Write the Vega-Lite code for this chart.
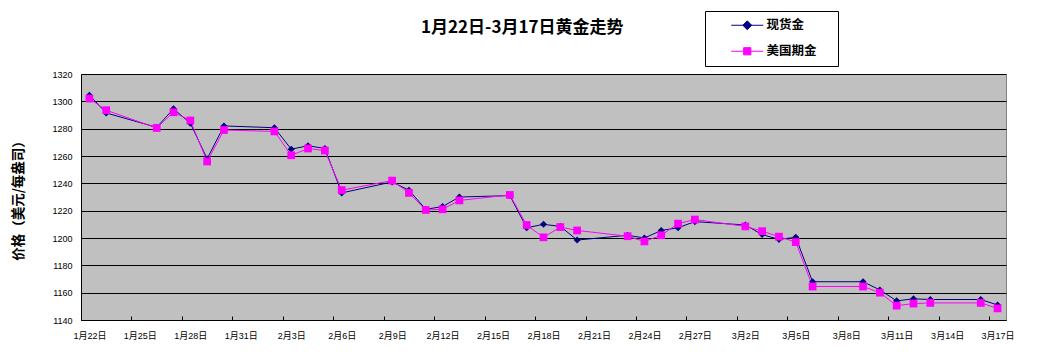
{
  "$schema": "https://vega.github.io/schema/vega-lite/v6.json",
  "width": 925,
  "height": 246,
  "autosize": {"type": "none"},
  "padding": {"left": 81, "top": 74, "right": 43, "bottom": 42},
  "background": "white",
  "title": {
    "text": "1月22日-3月17日黄金走势",
    "anchor": "start",
    "frame": "group",
    "dx": 340,
    "offset": -26,
    "font": "Noto Sans CJK SC",
    "fontSize": 17,
    "fontWeight": "bold",
    "color": "black"
  },
  "config": {
    "view": {"stroke": "#808080", "fill": "#C0C0C0", "strokeWidth": 1},
    "axis": {
      "domainColor": "black",
      "labelColor": "black",
      "labelFont": "Liberation Sans, Noto Sans CJK SC",
      "labelFontSize": 9
    }
  },
  "data": {
    "values": [
      {"date": "2015-01-22", "series": "现货金", "price": 1304.5},
      {"date": "2015-01-23", "series": "现货金", "price": 1291.5},
      {"date": "2015-01-26", "series": "现货金", "price": 1281},
      {"date": "2015-01-27", "series": "现货金", "price": 1294.5},
      {"date": "2015-01-28", "series": "现货金", "price": 1284},
      {"date": "2015-01-29", "series": "现货金", "price": 1258},
      {"date": "2015-01-30", "series": "现货金", "price": 1282},
      {"date": "2015-02-02", "series": "现货金", "price": 1280.7},
      {"date": "2015-02-03", "series": "现货金", "price": 1265},
      {"date": "2015-02-04", "series": "现货金", "price": 1267.5},
      {"date": "2015-02-05", "series": "现货金", "price": 1265.5},
      {"date": "2015-02-06", "series": "现货金", "price": 1233},
      {"date": "2015-02-09", "series": "现货金", "price": 1241},
      {"date": "2015-02-10", "series": "现货金", "price": 1235},
      {"date": "2015-02-11", "series": "现货金", "price": 1221},
      {"date": "2015-02-12", "series": "现货金", "price": 1223},
      {"date": "2015-02-13", "series": "现货金", "price": 1230},
      {"date": "2015-02-16", "series": "现货金", "price": 1231},
      {"date": "2015-02-17", "series": "现货金", "price": 1207.5},
      {"date": "2015-02-18", "series": "现货金", "price": 1210},
      {"date": "2015-02-19", "series": "现货金", "price": 1208.5},
      {"date": "2015-02-20", "series": "现货金", "price": 1198.5},
      {"date": "2015-02-23", "series": "现货金", "price": 1202},
      {"date": "2015-02-24", "series": "现货金", "price": 1200},
      {"date": "2015-02-25", "series": "现货金", "price": 1205.5},
      {"date": "2015-02-26", "series": "现货金", "price": 1207.5},
      {"date": "2015-02-27", "series": "现货金", "price": 1212},
      {"date": "2015-03-02", "series": "现货金", "price": 1209.5},
      {"date": "2015-03-03", "series": "现货金", "price": 1202.5},
      {"date": "2015-03-04", "series": "现货金", "price": 1199},
      {"date": "2015-03-05", "series": "现货金", "price": 1200.5},
      {"date": "2015-03-06", "series": "现货金", "price": 1168},
      {"date": "2015-03-09", "series": "现货金", "price": 1168},
      {"date": "2015-03-10", "series": "现货金", "price": 1162},
      {"date": "2015-03-11", "series": "现货金", "price": 1154},
      {"date": "2015-03-12", "series": "现货金", "price": 1155.5},
      {"date": "2015-03-13", "series": "现货金", "price": 1155},
      {"date": "2015-03-16", "series": "现货金", "price": 1155},
      {"date": "2015-03-17", "series": "现货金", "price": 1151},
      {"date": "2015-01-22", "series": "美国期金", "price": 1302},
      {"date": "2015-01-23", "series": "美国期金", "price": 1293.5},
      {"date": "2015-01-26", "series": "美国期金", "price": 1280.5},
      {"date": "2015-01-27", "series": "美国期金", "price": 1292},
      {"date": "2015-01-28", "series": "美国期金", "price": 1286},
      {"date": "2015-01-29", "series": "美国期金", "price": 1256},
      {"date": "2015-01-30", "series": "美国期金", "price": 1279},
      {"date": "2015-02-02", "series": "美国期金", "price": 1278},
      {"date": "2015-02-03", "series": "美国期金", "price": 1260.5},
      {"date": "2015-02-04", "series": "美国期金", "price": 1265.5},
      {"date": "2015-02-05", "series": "美国期金", "price": 1264},
      {"date": "2015-02-06", "series": "美国期金", "price": 1235},
      {"date": "2015-02-09", "series": "美国期金", "price": 1242},
      {"date": "2015-02-10", "series": "美国期金", "price": 1233},
      {"date": "2015-02-11", "series": "美国期金", "price": 1220.5},
      {"date": "2015-02-12", "series": "美国期金", "price": 1221},
      {"date": "2015-02-13", "series": "美国期金", "price": 1227.5},
      {"date": "2015-02-16", "series": "美国期金", "price": 1231.5},
      {"date": "2015-02-17", "series": "美国期金", "price": 1209.5},
      {"date": "2015-02-18", "series": "美国期金", "price": 1200.5},
      {"date": "2015-02-19", "series": "美国期金", "price": 1208},
      {"date": "2015-02-20", "series": "美国期金", "price": 1205.5},
      {"date": "2015-02-23", "series": "美国期金", "price": 1201.3},
      {"date": "2015-02-24", "series": "美国期金", "price": 1197.5},
      {"date": "2015-02-25", "series": "美国期金", "price": 1202},
      {"date": "2015-02-26", "series": "美国期金", "price": 1210.5},
      {"date": "2015-02-27", "series": "美国期金", "price": 1213.5},
      {"date": "2015-03-02", "series": "美国期金", "price": 1208.5},
      {"date": "2015-03-03", "series": "美国期金", "price": 1205},
      {"date": "2015-03-04", "series": "美国期金", "price": 1201},
      {"date": "2015-03-05", "series": "美国期金", "price": 1197},
      {"date": "2015-03-06", "series": "美国期金", "price": 1164.5},
      {"date": "2015-03-09", "series": "美国期金", "price": 1164.5},
      {"date": "2015-03-10", "series": "美国期金", "price": 1160},
      {"date": "2015-03-11", "series": "美国期金", "price": 1150.5},
      {"date": "2015-03-12", "series": "美国期金", "price": 1152},
      {"date": "2015-03-13", "series": "美国期金", "price": 1152.5},
      {"date": "2015-03-16", "series": "美国期金", "price": 1152.5},
      {"date": "2015-03-17", "series": "美国期金", "price": 1148.5}
    ]
  },
  "encoding": {
    "x": {
      "field": "date",
      "type": "temporal",
      "scale": {
        "type": "utc",
        "domain": [
          {"year": 2015, "month": 1, "date": 21, "hours": 12, "utc": true},
          {"year": 2015, "month": 3, "date": 17, "hours": 12, "utc": true}
        ]
      },
      "axis": {
        "title": null,
        "grid": false,
        "format": "%-m月%-d日",
        "values": [
          {"year": 2015, "month": 1, "date": 22, "utc": true},
          {"year": 2015, "month": 1, "date": 25, "utc": true},
          {"year": 2015, "month": 1, "date": 28, "utc": true},
          {"year": 2015, "month": 1, "date": 31, "utc": true},
          {"year": 2015, "month": 2, "date": 3, "utc": true},
          {"year": 2015, "month": 2, "date": 6, "utc": true},
          {"year": 2015, "month": 2, "date": 9, "utc": true},
          {"year": 2015, "month": 2, "date": 12, "utc": true},
          {"year": 2015, "month": 2, "date": 15, "utc": true},
          {"year": 2015, "month": 2, "date": 18, "utc": true},
          {"year": 2015, "month": 2, "date": 21, "utc": true},
          {"year": 2015, "month": 2, "date": 24, "utc": true},
          {"year": 2015, "month": 2, "date": 27, "utc": true},
          {"year": 2015, "month": 3, "date": 2, "utc": true},
          {"year": 2015, "month": 3, "date": 5, "utc": true},
          {"year": 2015, "month": 3, "date": 8, "utc": true},
          {"year": 2015, "month": 3, "date": 11, "utc": true},
          {"year": 2015, "month": 3, "date": 14, "utc": true},
          {"year": 2015, "month": 3, "date": 17, "utc": true}
        ],
        "tickColor": "black",
        "tickSize": -4,
        "tickOffset": -8.4,
        "labelOffset": 8.4,
        "labelPadding": 15,
        "labelOverlap": false,
        "labelFlush": false
      }
    },
    "y": {
      "field": "price",
      "type": "quantitative",
      "scale": {"domain": [1140, 1320], "nice": false, "zero": false},
      "axis": {
        "title": "价格（美元/每盎司）",
        "titleFont": "Noto Sans CJK SC",
        "titleFontSize": 13.5,
        "titleFontWeight": "bold",
        "titleColor": "black",
        "titlePadding": 26,
        "format": "d",
        "values": [1140, 1160, 1180, 1200, 1220, 1240, 1260, 1280, 1300, 1320],
        "ticks": false,
        "labelPadding": 9,
        "grid": true,
        "gridColor": "black",
        "gridWidth": 1,
        "gridOpacity": 1
      }
    },
    "color": {
      "field": "series",
      "type": "nominal",
      "scale": {"domain": ["现货金", "美国期金"], "range": ["#000080", "#FF00FF"]},
      "legend": {
        "orient": "none",
        "legendX": 624,
        "legendY": -63,
        "title": null,
        "strokeColor": "black",
        "fillColor": "white",
        "padding": 8,
        "symbolOffset": 28,
        "symbolSize": 64,
        "symbolType": "circle",
        "labelOffset": 13,
        "rowPadding": 13,
        "labelFont": "Noto Sans CJK SC",
        "labelFontSize": 12.5,
        "labelFontWeight": "bold",
        "labelColor": "black",
        "labelExpr": "datum.label + '\u3000\u200b'",
        "encode": {
          "symbols": {
            "update": {
              "shape": {"signal": "datum.value === '现货金' ? 'M-4,0H4M0,-1.1L1.1,0L0,1.1L-1.1,0Z' : 'M-4,0H4M-0.9,-0.9H0.9V0.9H-0.9Z'"},
              "fill": {"signal": "datum.value === '现货金' ? '#000080' : '#FF00FF'"},
              "stroke": {"signal": "datum.value === '现货金' ? '#000080' : '#FF00FF'"},
              "strokeWidth": {"value": 1},
              "opacity": {"value": 1}
            }
          }
        }
      }
    }
  },
  "layer": [
    {
      "mark": {"type": "line", "strokeWidth": 1}
    },
    {
      "transform": [{"filter": "datum.series === '现货金'"}],
      "mark": {"type": "point", "filled": true, "opacity": 1, "shape": "diamond", "size": 50}
    },
    {
      "transform": [{"filter": "datum.series === '美国期金'"}],
      "mark": {"type": "point", "filled": true, "opacity": 1, "shape": "square", "size": 60}
    }
  ]
}
